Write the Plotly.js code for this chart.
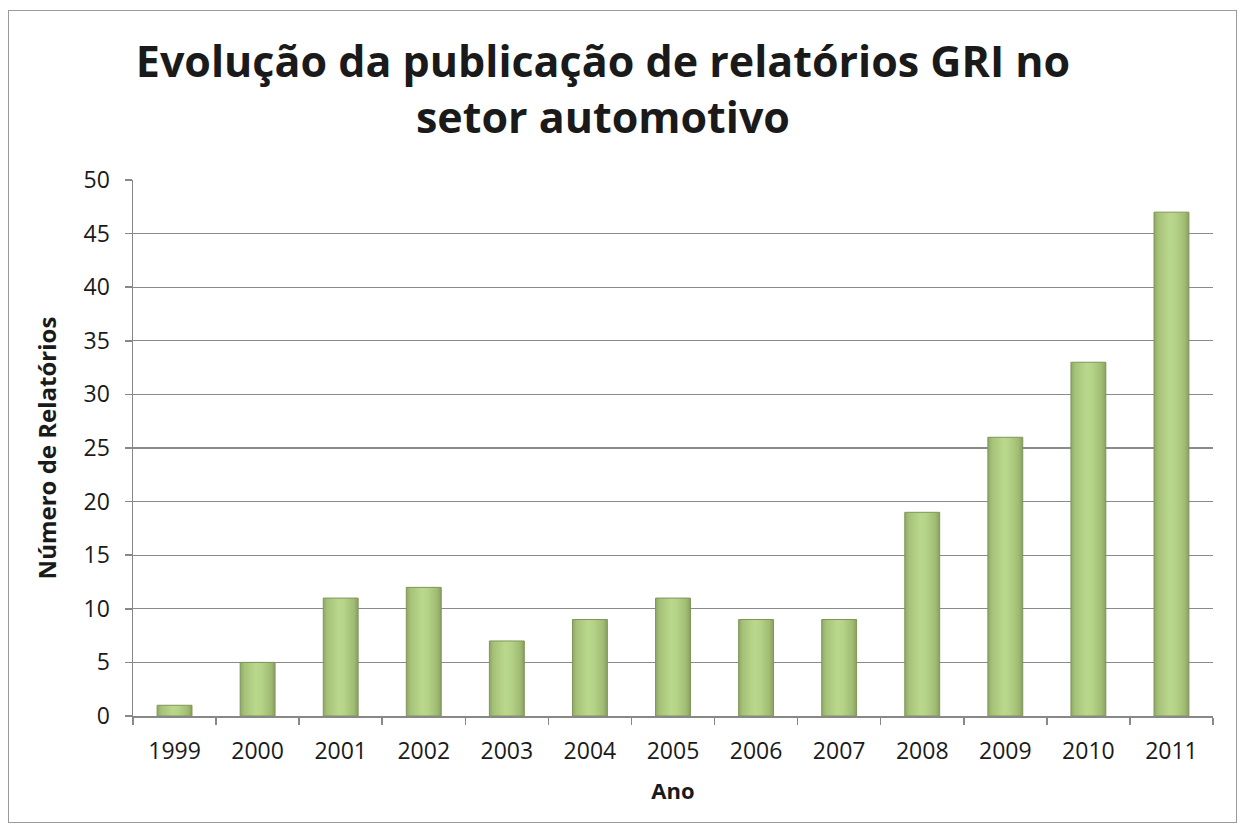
<!DOCTYPE html>
<html><head><meta charset="utf-8">
<script src="https://cdn.plot.ly/plotly-3.0.1.min.js"></script>
<style>
html,body{margin:0;padding:0;background:#fff;}
#frame{position:absolute;left:8px;top:10px;width:1229px;height:813px;border:1.5px solid #9a9a9a;box-sizing:border-box;pointer-events:none;z-index:5;}
#chart{position:absolute;left:0;top:0;width:1245px;height:833px;}
</style></head>
<body>
<div id="chart"></div>
<div id="frame"></div>
<script>
const years = ['1999','2000','2001','2002','2003','2004','2005','2006','2007','2008','2009','2010','2011'];
const reports = [1,5,11,12,7,9,11,9,9,19,26,33,47];
const titleText = 'Evolução da publicação de relatórios GRI no<br>setor automotivo';
const xTitle = 'Ano';
const yTitle = 'Número de Relatórios';
const fontFam = '"Open Sans", sans-serif';

const trace = {
  type:'bar', x:years, y:reports,
  marker:{color:'#a9c77c', line:{color:'#7f9658', width:1}},
  hoverinfo:'x+y'
};
const layout = {
  width:1245, height:833,
  margin:{l:133, r:32, t:180, b:117},
  paper_bgcolor:'#fff', plot_bgcolor:'#fff',
  bargap:0.58,
  showlegend:false,
  font:{family:fontFam, color:'#1a1a1a', size:23},
  title:{text:titleText, x:603/1245, xref:'container', xanchor:'center', yref:'container', y:1-77/833, yanchor:'top',
    font:{family:fontFam, size:43, color:'#1a1a1a', weight:'bold'}},
  xaxis:{type:'category', showgrid:false, showline:true, linecolor:'#888', linewidth:1.5,
    ticks:'outside', tickson:'boundaries', ticklen:7, tickcolor:'#888', tickwidth:1.5,
    tickfont:{size:23, family:fontFam, color:'#1a1a1a'}, ticklabelstandoff:14,
    title:{text:xTitle, standoff:18, font:{size:22, family:fontFam, weight:'bold', color:'#1a1a1a'}}},
  yaxis:{range:[0,50], dtick:5, showgrid:true, gridcolor:'#8a8a8a', gridwidth:1.3,
    showline:true, linecolor:'#888', linewidth:1.5, zeroline:false,
    ticks:'outside', ticklen:7, tickcolor:'#888', tickwidth:1.5,
    tickfont:{size:23, family:fontFam, color:'#1a1a1a'}, ticklabelstandoff:10,
    title:{text:yTitle, standoff:20, font:{size:24, family:fontFam, weight:'bold', color:'#1a1a1a'}}}
};
Plotly.newPlot('chart',[trace],layout,{displayModeBar:false, staticPlot:true}).then(function(gd){
  const svg = gd.querySelector('svg.main-svg');
  const ns='http://www.w3.org/2000/svg';
  let defs = svg.querySelector('defs');
  const lg = document.createElementNS(ns,'linearGradient');
  lg.setAttribute('id','barGrad'); lg.setAttribute('x1','0'); lg.setAttribute('x2','1'); lg.setAttribute('y1','0'); lg.setAttribute('y2','0');
  [['0','#8fa866'],['0.12','#a6c279'],['0.45','#bad88c'],['0.6','#b6d488'],['0.88','#a0bc73'],['1','#899f60']].forEach(function(s){
    const st=document.createElementNS(ns,'stop'); st.setAttribute('offset',s[0]); st.setAttribute('stop-color',s[1]); lg.appendChild(st);
  });
  defs.appendChild(lg);
  gd.querySelectorAll('.trace.bars .point path').forEach(function(p){
    p.style.fill='url(#barGrad)';
  });
});
</script>
</body></html>
